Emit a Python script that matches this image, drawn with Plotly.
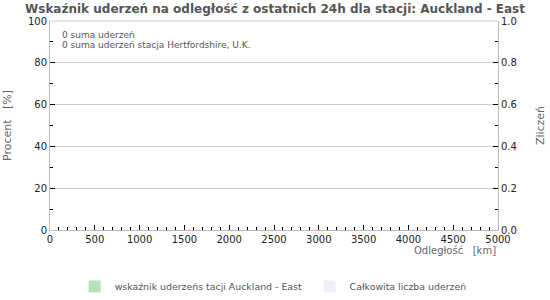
import plotly.graph_objects as go

distance_km = [250, 750, 1250, 1750, 2250, 2750, 3250, 3750, 4250, 4750]
strike_pct = [0, 0, 0, 0, 0, 0, 0, 0, 0, 0]
strike_count = [0, 0, 0, 0, 0, 0, 0, 0, 0, 0]
title = "Wskaźnik uderzeń na odległość z ostatnich 24h dla stacji: Auckland - East"
notes = ["0 suma uderzeń", "0 suma uderzeń stacja Hertfordshire, U.K."]
series_names = ["wskaźnik uderzeńs tacji Auckland - East\u00a0", "Całkowita liczba uderzeń"]

FONT = "DejaVu Sans"
fig = go.Figure()
fig.add_trace(go.Bar(x=distance_km, y=strike_pct, name=series_names[0],
                     marker=dict(color="#b5e3b5", line=dict(width=0)), width=500))
fig.add_trace(go.Bar(x=distance_km, y=strike_count, name=series_names[1], yaxis="y2",
                     marker=dict(color="#eeeeff", line=dict(width=0)), width=500))

fig.update_layout(
    width=550, height=300,
    margin=dict(l=50, r=52, t=21, b=70, autoexpand=False),
    paper_bgcolor="white", plot_bgcolor="white",
    font=dict(family=FONT, size=10, color="#333"),
    title=dict(text="<b>" + title + "</b>", x=0.5, xanchor="center", y=0.985, yanchor="top",
               font=dict(family=FONT, size=12, color="#555")),
    showlegend=True,
    legend=dict(orientation="h", x=0.055, xanchor="left", yref="container", y=0.045, yanchor="middle",
                font=dict(family=FONT, size=9.4, color="#555"), itemwidth=30,
                traceorder="normal", bgcolor="rgba(0,0,0,0)"),
    xaxis=dict(range=[0, 5000], dtick=500, tick0=0, showgrid=False, zeroline=False, automargin=False,
               showline=True, linecolor="#bbb", linewidth=1, mirror=False,
               ticks="inside", ticklen=5, tickcolor="#000", tickwidth=1,
               minor=dict(dtick=100, ticks="inside", ticklen=3, tickcolor="#000", showgrid=False),
               tickfont=dict(size=10, color="#222")),
    yaxis=dict(range=[0, 100], dtick=20, showgrid=True, gridcolor="#cccccc", zeroline=False, automargin=False,
               showline=True, linecolor="#bbb", linewidth=1, mirror=False,
               ticks="inside", ticklen=5, tickcolor="#000",
               minor=dict(dtick=10, ticks="inside", ticklen=3, tickcolor="#000", showgrid=False),
               tickfont=dict(size=10, color="#222"),
               title=dict(text="Procent\u00a0\u00a0\u00a0[%]", font=dict(size=11, color="#666"), standoff=14)),
    yaxis2=dict(range=[0, 1], dtick=0.2, overlaying="y", side="right", showgrid=False, automargin=False,
                zeroline=False, showline=True, linecolor="#bbb", linewidth=1,
                ticks="inside", ticklen=5, tickcolor="#000", tickformat=".1f",
                minor=dict(dtick=0.1, ticks="inside", ticklen=3, tickcolor="#000", showgrid=False),
                tickfont=dict(size=10, color="#222"),
                title=dict(text="Zliczeń", font=dict(size=11, color="#666"), standoff=20)),
    bargap=0,
)
fig.add_shape(type="line", xref="paper", yref="paper", x0=0, x1=1, y0=1, y1=1,
              line=dict(color="#cccccc", width=1))
for i, t in enumerate(notes):
    fig.add_annotation(text=t, xref="paper", yref="paper", x=0.022, y=0.935 - i * 0.05,
                       xanchor="left", yanchor="middle", showarrow=False,
                       font=dict(family=FONT, size=9, color="#555"))
fig.add_annotation(text="Odległość\u00a0\u00a0\u00a0[km]", xref="paper", yref="paper", x=1.0, y=-0.06,
                   xanchor="right", yanchor="top", showarrow=False,
                   font=dict(family=FONT, size=10, color="#666"))

fig.write_html("out.html")
